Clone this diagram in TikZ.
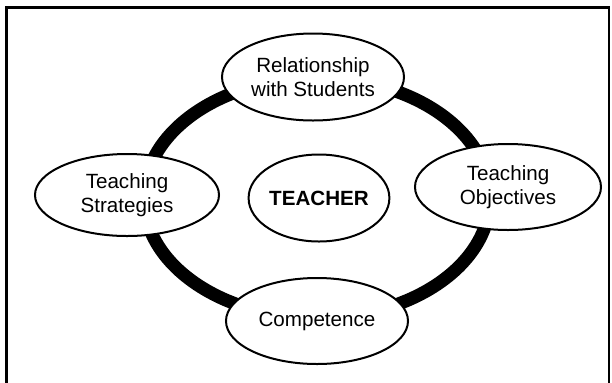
\documentclass[tikz,border=0pt]{standalone}
\usepackage{fontspec}
\setmainfont{Liberation Sans}
\usetikzlibrary{shapes.geometric}

\tikzset{
	role/.style={ellipse, draw, line width=1pt, fill=white, inner sep=0pt,
		align=center, font=\fontsize{10.3}{11.7}\selectfont},
}

\begin{document}
\begin{tikzpicture}[x=0.5pt, y=-0.5pt]
		\useasboundingbox (0,0) rectangle (612,382);
		% frame, open at the bottom
		\draw[line width=1.1pt] (6.5,392) -- (6.5,7.5) -- (609,7.5) -- (609,392);

		% ring
		\draw[line width=6.5pt] (317,198) ellipse [x radius=86.5pt, y radius=60pt];

		\node[role, minimum width=91pt, minimum height=43.5pt] (rel) at (313,77) {Relationship\\with Students};
		\node[role, minimum width=92pt, minimum height=41pt] (strat) at (127,195) {Teaching\\Strategies};
		\node[role, minimum width=93pt, minimum height=43pt] (obj) at (508,187) {Teaching\\Objectives};
		\node[role, minimum width=91pt, minimum height=43pt] (comp) at (317,321) {Competence};
		\node[role, minimum width=66pt, minimum height=43.5pt, font=\fontsize{10.3}{11.7}\selectfont\bfseries] (teacher) at (319,198) {TEACHER};

		\end{tikzpicture}
\end{document}
